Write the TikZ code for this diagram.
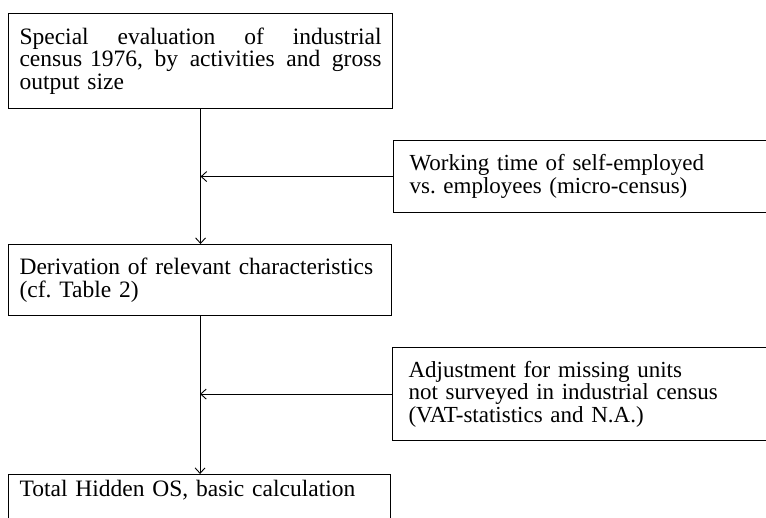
\documentclass[tikz,border=0pt]{standalone}
\usepackage{fontspec}
\setmainfont{Liberation Serif}
\usetikzlibrary{arrows.meta}
\frenchspacing
\begin{document}
\begin{tikzpicture}[x=1pt,y=-1pt,
  box/.style={draw, line width=1.1pt, rectangle, anchor=north west,
    inner xsep=11pt, inner ysep=0pt, align=left,
    font=\fontsize{23.5}{22.5}\selectfont\frenchspacing},
  rbox/.style={box, inner xsep=16pt, text width=420pt,
    font=\fontsize{23}{22.5}\selectfont\frenchspacing},
  flow/.style={draw, line width=0.9pt, -{Straight Barb[length=5.5pt,width=10pt]}}]
\clip (0,0) rectangle (766,518);
\node[box, text width=362pt, minimum height=95pt] (b1) at (8,13)
  {\makebox[362pt][l]{Special\hfill evaluation\hfill of\hfill industrial}\\
   \makebox[362pt][l]{census 1976,\hfill by\hfill activities\hfill and\hfill gross}\\
   output size};
\node[rbox, minimum height=72pt] (b2) at (393,140)
  {Working time of self-employed\\vs. employees (micro-census)};
\node[box, text width=361pt, minimum height=71pt] (b3) at (8,244)
  {Derivation of relevant characteristics\\(cf. Table 2)};
\node[rbox, minimum height=93pt] (b4) at (392,347)
  {Adjustment for missing units\\not surveyed in industrial census\\(VAT-statistics and N.A.)};
\node[box, text width=360pt, inner ysep=6pt, text height=16pt, text depth=40pt] (b5) at (8,474)
  {Total Hidden OS, basic calculation};
\draw[flow] (b1.south) -- (b1.south |- b3.north);
\draw[flow] (b2.west) -- (b2.west -| b1.south);
\draw[flow] (b3.south) -- (b3.south |- b5.north);
\draw[flow] (b4.west) -- (b4.west -| b3.south);
\end{tikzpicture}
\end{document}
